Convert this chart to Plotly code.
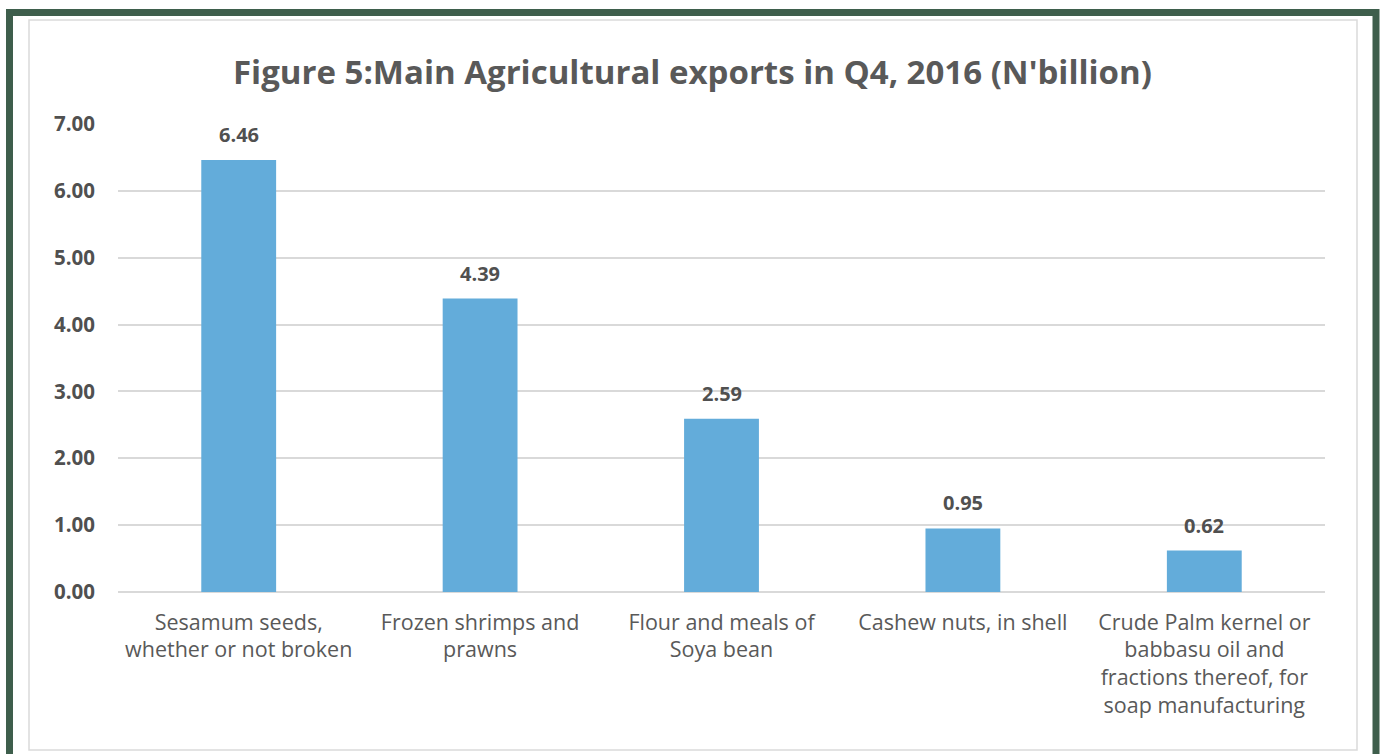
import plotly.graph_objects as go

categories = [
    "Sesamum seeds,<br>whether or not broken",
    "Frozen shrimps and<br>prawns",
    "Flour and meals of<br>Soya bean",
    "Cashew nuts, in shell",
    "Crude Palm kernel or<br>babbasu oil and<br>fractions thereof, for<br>soap manufacturing",
]
values = [6.46, 4.39, 2.59, 0.95, 0.62]
y_ticks = [0, 1, 2, 3, 4, 5, 6, 7]
y_tick_labels = [f"{t:.2f}" for t in y_ticks]

W, H = 1385, 754
L, R, T, B = 118, 60, 124, 162
pw, ph = W - L - R, H - T - B

def px_x(x):
    return (x - L) / pw

def px_y(y):
    return (H - B - y) / ph

FONT = "Open Sans"
GRAY = "#595959"

fig = go.Figure()
fig.add_trace(go.Bar(
    x=categories, y=values,
    marker=dict(color="#63ACDA", line=dict(width=0)),
    width=0.31,
    hoverinfo="x+y",
))

annotations = []
for c, v in zip(categories, values):
    annotations.append(dict(
        x=c, y=v, xref="x", yref="y", text=f"<b>{v:.2f}</b>", showarrow=False,
        yanchor="bottom", yshift=10,
        font=dict(family=FONT, size=20, color="#505050"),
    ))
annotations.append(dict(
    x=px_x(692), y=px_y(72), xref="paper", yref="paper",
    text="<b>Figure 5:Main Agricultural exports in Q4, 2016 (N'billion)</b>",
    showarrow=False, xanchor="center", yanchor="middle",
    font=dict(family=FONT, size=33, color=GRAY),
))

shapes = [
    dict(type="rect", xref="paper", yref="paper",
         x0=px_x(29), x1=px_x(1357), y0=px_y(750), y1=px_y(20),
         line=dict(color="#DADADA", width=1.5), fillcolor="rgba(0,0,0,0)", layer="below"),
    dict(type="rect", xref="paper", yref="paper",
         x0=px_x(9.5), x1=px_x(1376), y0=px_y(800), y1=px_y(12.5),
         line=dict(color="#3E5E4C", width=7), fillcolor="rgba(0,0,0,0)", layer="above"),
]

fig.update_layout(
    width=W, height=H,
    margin=dict(l=L, r=R, t=T, b=B, autoexpand=False),
    paper_bgcolor="white", plot_bgcolor="white",
    showlegend=False,
    annotations=annotations,
    shapes=shapes,
    bargap=0.69,
    xaxis=dict(
        showgrid=False, showline=False, zeroline=False, ticks="",
        tickfont=dict(family=FONT, size=21.5, color=GRAY),
        ticklabelstandoff=15,
    ),
    yaxis=dict(
        range=[0, 7], tickvals=y_ticks, ticktext=[f"<b>{t}</b>" for t in y_tick_labels],
        showgrid=True, gridcolor="#D9D9D9", gridwidth=1.5,
        zeroline=True, zerolinecolor="#D9D9D9", zerolinewidth=1.5,
        showline=False, ticks="",
        tickfont=dict(family=FONT, size=20.5, color="#505050"),
        ticklabelstandoff=22,
    ),
)

fig.write_html(
    "out.html",
    config={"displayModeBar": False},
    post_script="document.body.style.margin='0';document.body.style.overflow='hidden';",
)
